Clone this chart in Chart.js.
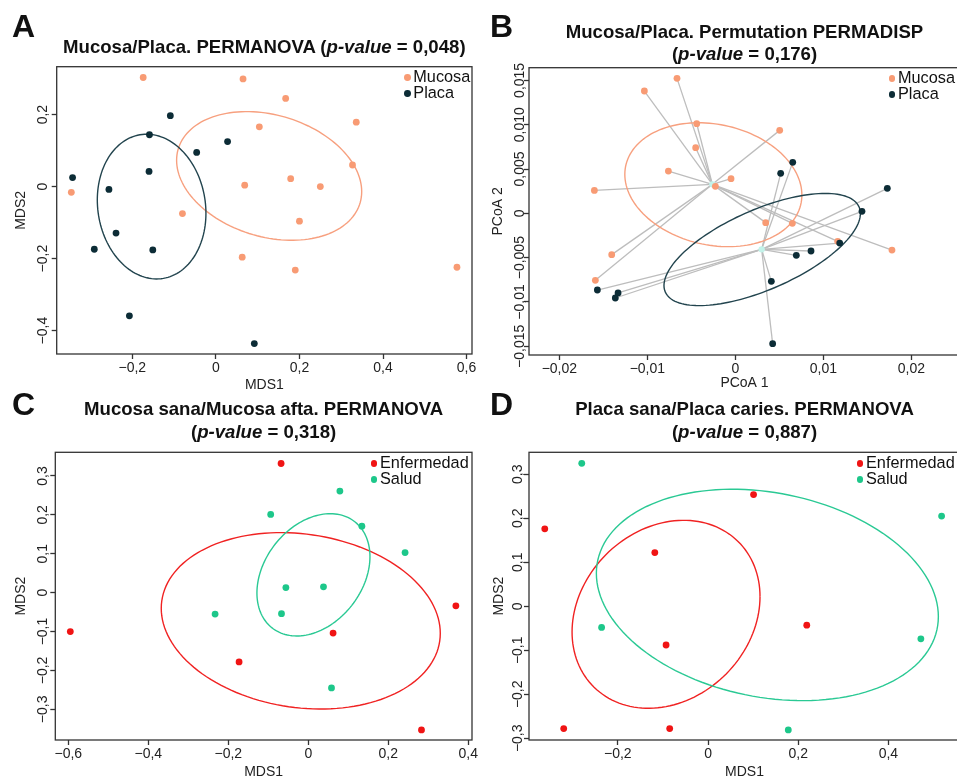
<!DOCTYPE html>
<html>
<head>
<meta charset="utf-8">
<script src="https://cdn.jsdelivr.net/npm/chart.js@4.4.0/dist/chart.umd.min.js"></script>
<style>
  body { margin: 0; width: 957px; height: 778px; overflow: hidden; background: #fff; position: relative;
         font-family: "Liberation Sans", Arial, sans-serif; color: #111; }
  canvas { position: absolute; }
  .letter { position: absolute; font-weight: bold; font-size: 32px; line-height: 32px; }
  .title { position: absolute; font-weight: bold; font-size: 18.6px; line-height: 22.7px; text-align: center; white-space: nowrap; }
  .legend { position: absolute; font-size: 16.3px; line-height: 16px; white-space: nowrap; }
  .legend div { position: relative; }
  .legend span { position: absolute; left: -9.4px; width: 6.8px; height: 6.8px; border-radius: 50%; }
</style>
</head>
<body>
<script>
// ---- A: Mucosa/Placa NMDS
const aMucosa = [[-0.174,0.303],[0.065,0.299],[0.167,0.245],[0.336,0.179],[0.104,0.166],[0.327,0.060],
  [0.069,0.004],[0.179,0.022],[0.250,0.000],[-0.346,-0.016],[-0.080,-0.075],[0.200,-0.096],
  [0.063,-0.196],[0.190,-0.232],[0.577,-0.224]];
const aPlaca = [[-0.109,0.197],[-0.159,0.144],[0.028,0.125],[-0.046,0.095],[-0.343,0.025],[-0.160,0.042],
  [-0.256,-0.008],[-0.239,-0.129],[-0.291,-0.174],[-0.151,-0.176],[-0.207,-0.359],[0.092,-0.436]];
// ellipses: centre x, centre y, half width, half height, y offset at rightmost point
const aEllMucosa = [0.1275, 0.0296, 0.2215, 0.1787, -0.0435];
const aEllPlaca = [-0.1538, -0.0556, 0.130, 0.201, -0.0185];
const aXRange = [-0.381, 0.613], aYRange = [-0.465, 0.333];
const aXTicks = [-0.2, 0, 0.2, 0.4, 0.6], aXLabels = ['−0,2', '0', '0,2', '0,4', '0,6'];
const aYTicks = [-0.4, -0.2, 0, 0.2], aYLabels = ['−0,4', '−0,2', '0', '0,2'];

// ---- B: PERMADISP PCoA
const bMucosa = [[-0.00663,0.01523],[-0.01034,0.01380],[-0.00439,0.01011],[-0.00451,0.00741],[0.00504,0.00936],
  [-0.00761,0.00477],[-0.00049,0.00391],[-0.00227,0.00305],[-0.01602,0.00259],[0.00345,-0.00105],
  [0.00648,-0.00113],[0.01163,-0.00316],[0.01780,-0.00414],[-0.01405,-0.00466],[-0.01591,-0.00756]];
const bPlaca = [[0.00652,0.00575],[0.00515,0.00451],[0.01727,0.00282],[0.01439,0.00023],[0.01186,-0.00335],
  [0.00860,-0.00425],[0.00693,-0.00474],[0.00409,-0.00767],[0.00424,-0.01470],[-0.01568,-0.00865],
  [-0.01333,-0.00898],[-0.01364,-0.00955]];
const bCentroids = [[-0.00261, 0.00327], [0.00299, -0.00406]];
const bEllMucosa = [-0.0025, 0.00323, 0.01006, 0.00699, -0.001165];
const bEllPlaca = [0.00305, -0.00408, 0.01116, 0.00633, 0.00406];
const bXRange = [-0.02345, 0.02553], bYRange = [-0.01598, 0.01643];
const bXTicks = [-0.02, -0.01, 0, 0.01, 0.02], bXLabels = ['−0,02', '−0,01', '0', '0,01', '0,02'];
const bYTicks = [-0.015, -0.01, -0.005, 0, 0.005, 0.01, 0.015];
const bYLabels = ['−0,015', '−0,01', '−0,005', '0', '0,005', '0,010', '0,015'];

// ---- C: Mucosa sana / afta
const cEnf = [[-0.068,0.332],[-0.595,-0.100],[0.062,-0.104],[-0.173,-0.178],[0.369,-0.034],[0.283,-0.353]];
const cSalud = [[0.079,0.261],[-0.094,0.201],[0.134,0.171],[0.242,0.103],[-0.056,0.013],[0.038,0.015],
  [-0.233,-0.055],[-0.067,-0.054],[0.058,-0.245]];
const cEllEnf = [-0.0188, -0.0724, 0.3488, 0.2267, -0.0321];
const cEllSalud = [0.0129, 0.0458, 0.1413, 0.1572, 0.0467];
const cXRange = [-0.6325, 0.4093], cYRange = [-0.3788, 0.3608];
const cXTicks = [-0.6, -0.4, -0.2, 0, 0.2, 0.4], cXLabels = ['−0,6', '−0,4', '−0,2', '0', '0,2', '0,4'];
const cYTicks = [-0.3, -0.2, -0.1, 0, 0.1, 0.2, 0.3], cYLabels = ['−0,3', '−0,2', '−0,1', '0', '0,1', '0,2', '0,3'];

// ---- D: Placa sana / caries
const dEnf = [[-0.362,0.176],[-0.118,0.122],[0.101,0.254],[0.219,-0.043],[-0.093,-0.088],[-0.320,-0.278],[-0.085,-0.278]];
const dSalud = [[-0.280,0.325],[0.518,0.205],[-0.236,-0.048],[0.472,-0.074],[0.178,-0.281]];
const dEllEnf = [-0.0931, -0.0182, 0.2084, 0.2136, 0.0402];
const dEllSalud = [0.1316, 0.0258, 0.3792, 0.2402, -0.0492];
const dXRange = [-0.397, 0.5588], dYRange = [-0.3039, 0.35];
const dXTicks = [-0.2, 0, 0.2, 0.4], dXLabels = ['−0,2', '0', '0,2', '0,4'];
const dYTicks = [-0.3, -0.2, -0.1, 0, 0.1, 0.2, 0.3], dYLabels = ['−0,3', '−0,2', '−0,1', '0', '0,1', '0,2', '0,3'];

const ORANGE = '#f89b74', DARK = '#0c2c36', RED = '#f01414', GREEN = '#1dc78a';
const FONT = '"Liberation Sans", Arial, sans-serif';

// ellipses, spider lines, plot box and rotated y labels
const shapes = {
  id: 'shapes',
  beforeDatasetsDraw(chart, args, opts) {
    const { ctx, chartArea: a, scales: { x, y } } = chart;
    ctx.save();
    ctx.beginPath();
    ctx.rect(a.left, a.top, a.right - a.left, a.bottom - a.top);
    ctx.clip();
    (opts.spiders || []).forEach(s => {
      ctx.strokeStyle = '#bdbdbd';
      ctx.lineWidth = 1.3;
      s.points.forEach(p => {
        ctx.beginPath();
        ctx.moveTo(x.getPixelForValue(p[0]), y.getPixelForValue(p[1]));
        ctx.lineTo(x.getPixelForValue(s.center[0]), y.getPixelForValue(s.center[1]));
        ctx.stroke();
      });
    });
    (opts.ellipses || []).forEach(e => {
      const [cx, cy, w, h, k] = e.shape;
      const v = Math.sqrt(h * h - k * k);
      ctx.strokeStyle = e.color;
      ctx.lineWidth = 1.4;
      ctx.beginPath();
      for (let i = 0; i <= 144; i++) {
        const t = i / 144 * 2 * Math.PI;
        const px = x.getPixelForValue(cx + w * Math.cos(t));
        const py = y.getPixelForValue(cy + k * Math.cos(t) + v * Math.sin(t));
        if (i) ctx.lineTo(px, py); else ctx.moveTo(px, py);
      }
      ctx.stroke();
    });
    ctx.restore();
  },
  afterDraw(chart, args, opts) {
    const { ctx, chartArea: a, scales: { y } } = chart;
    ctx.save();
    ctx.strokeStyle = '#333';
    ctx.lineWidth = 1.3;
    ctx.strokeRect(a.left, a.top, a.right - a.left, a.bottom - a.top);
    ctx.font = '14px ' + FONT;
    ctx.fillStyle = '#222';
    ctx.textAlign = 'center';
    ctx.textBaseline = 'alphabetic';
    opts.yTicks.forEach((val, i) => {
      ctx.save();
      ctx.translate(a.left - opts.gap, y.getPixelForValue(val));
      ctx.rotate(-Math.PI / 2);
      ctx.fillText(opts.yLabels[i], 0, 0);
      ctx.restore();
    });
    ctx.restore();
  }
};

const panels = [
  { letter: 'A', letterPos: [12, 10], canvas: [0, 0, 490, 400], area: [56.7, 66.7, 472, 354], xTitleY: 385, yTitleX: 21.3, gap: 10,
    title: 'Mucosa/Placa. PERMANOVA (<i>p-value</i> = 0,048)', titleTop: 36.2,
    xTitle: 'MDS1', yTitle: 'MDS2', legend: [413.3, 81.7],
    groups: [['Mucosa', aMucosa, ORANGE], ['Placa', aPlaca, DARK]],
    ellipses: [{ shape: aEllMucosa, color: '#f7a07f' }, { shape: aEllPlaca, color: '#22444e' }],
    xRange: aXRange, yRange: aYRange, xTicks: aXTicks, xLabels: aXLabels, yTicks: aYTicks, yLabels: aYLabels },
  { letter: 'B', letterPos: [490, 10], canvas: [478, 0, 490, 400], area: [529, 67.7, 960, 355], xTitleY: 383.5, yTitleX: 498.5, gap: 5.5,
    title: 'Mucosa/Placa. Permutation PERMADISP<br>(<i>p-value</i> = 0,176)', titleTop: 20.5,
    xTitle: 'PCoA 1', yTitle: 'PCoA 2', legend: [898, 82.7],
    groups: [['Mucosa', bMucosa, ORANGE], ['Placa', bPlaca, DARK]],
    centroids: bCentroids,
    spiders: [{ points: bMucosa, center: bCentroids[0] }, { points: bPlaca, center: bCentroids[1] }],
    ellipses: [{ shape: bEllMucosa, color: '#f7a07f' }, { shape: bEllPlaca, color: '#22444e' }],
    xRange: bXRange, yRange: bYRange, xTicks: bXTicks, xLabels: bXLabels, yTicks: bYTicks, yLabels: bYLabels },
  { letter: 'C', letterPos: [12, 388], canvas: [0, 390, 490, 388], area: [55.3, 452.3, 472, 740], xTitleY: 772, yTitleX: 21.3, gap: 8.6,
    title: 'Mucosa sana/Mucosa afta. PERMANOVA<br>(<i>p-value</i> = 0,318)', titleTop: 398.2,
    xTitle: 'MDS1', yTitle: 'MDS2', legend: [380, 467.3],
    groups: [['Enfermedad', cEnf, RED], ['Salud', cSalud, GREEN]],
    ellipses: [{ shape: cEllEnf, color: '#f02222' }, { shape: cEllSalud, color: '#2ac994' }],
    xRange: cXRange, yRange: cYRange, xTicks: cXTicks, xLabels: cXLabels, yTicks: cYTicks, yLabels: cYLabels },
  { letter: 'D', letterPos: [490, 388], canvas: [478, 390, 490, 388], area: [529, 452.3, 960, 740], xTitleY: 772, yTitleX: 498.7, gap: 6.7,
    title: 'Placa sana/Placa caries. PERMANOVA<br>(<i>p-value</i> = 0,887)', titleTop: 398.2,
    xTitle: 'MDS1', yTitle: 'MDS2', legend: [866, 467.7],
    groups: [['Enfermedad', dEnf, RED], ['Salud', dSalud, GREEN]],
    ellipses: [{ shape: dEllEnf, color: '#f02222' }, { shape: dEllSalud, color: '#2ac994' }],
    xRange: dXRange, yRange: dYRange, xTicks: dXTicks, xLabels: dXLabels, yTicks: dYTicks, yLabels: dYLabels }
];

function addDiv(cls, html, left, top, width) {
  const d = document.createElement('div');
  d.className = cls;
  d.innerHTML = html;
  d.style.left = left + 'px';
  d.style.top = top + 'px';
  if (width) d.style.width = width + 'px';
  document.body.appendChild(d);
  return d;
}

panels.forEach(p => {
  const [cl, ct, cw, ch] = p.canvas;
  const [al, at, ar, ab] = p.area;
  const half = 8.4; // half of the axis-title line height
  const pad = {
    left: p.yTitleX - cl - half,
    top: at - ct,
    right: cl + cw - ar,
    bottom: ct + ch - p.xTitleY - half
  };
  const yWidth = al - cl - pad.left;
  const xHeight = p.xTitleY + half - ab;

  const canvas = document.createElement('canvas');
  canvas.width = cw; canvas.height = ch;
  canvas.style.left = cl + 'px'; canvas.style.top = ct + 'px';
  document.body.appendChild(canvas);

  // later groups are plotted on top, as in the original
  const datasets = p.groups.map((g, i) => ({
    label: g[0],
    data: g[1].map(pt => ({ x: pt[0], y: pt[1] })),
    backgroundColor: g[2],
    borderWidth: 0,
    pointRadius: 3.4,
    pointHoverRadius: 3.4,
    order: p.groups.length - i
  }));
  if (p.centroids) {
    datasets.push({ label: 'centroide', data: p.centroids.map(pt => ({ x: pt[0], y: pt[1] })),
      backgroundColor: '#c3f3ea', borderWidth: 0, pointRadius: 3.2, order: 10 });
  }

  new Chart(canvas, {
    type: 'scatter',
    data: { datasets },
    options: {
      animation: false,
      responsive: false,
      events: [],
      layout: { padding: pad },
      plugins: {
        legend: { display: false },
        tooltip: { enabled: false },
        shapes: { ellipses: p.ellipses, spiders: p.spiders, yTicks: p.yTicks, yLabels: p.yLabels, gap: p.gap }
      },
      scales: {
        x: {
          type: 'linear', min: p.xRange[0], max: p.xRange[1],
          afterBuildTicks: s => { s.ticks = p.xTicks.map(v => ({ value: v })); },
          afterFit: s => { s.height = xHeight; },
          ticks: { callback: v => p.xLabels[p.xTicks.indexOf(v)], font: { family: FONT, size: 14 }, color: '#222',
                   padding: 1, maxRotation: 0, autoSkip: false },
          grid: { drawOnChartArea: false, drawTicks: true, tickLength: 5, tickColor: '#333', tickWidth: 1.3 },
          border: { display: false },
          title: { display: true, text: p.xTitle, font: { family: FONT, size: 14 }, color: '#222', padding: 0 }
        },
        y: {
          type: 'linear', min: p.yRange[0], max: p.yRange[1],
          afterBuildTicks: s => { s.ticks = p.yTicks.map(v => ({ value: v })); },
          afterFit: s => { s.width = yWidth; },
          ticks: { display: false },
          grid: { drawOnChartArea: false, drawTicks: true, tickLength: 5, tickColor: '#333', tickWidth: 1.3 },
          border: { display: false },
          title: { display: true, text: p.yTitle, font: { family: FONT, size: 14 }, color: '#222', padding: 0 }
        }
      }
    },
    plugins: [shapes]
  });

  addDiv('letter', p.letter, p.letterPos[0], p.letterPos[1]);
  addDiv('title', p.title, al, p.titleTop, Math.min(ar, 957) - al + (ar > 957 ? ar - 957 : 0));
  const rows = p.groups.map(g => '<div><span style="background:' + g[2] + ';top:6.3px"></span>' + g[0] + '</div>').join('');
  addDiv('legend', rows, p.legend[0], p.legend[1] - 13.8);
});
</script>
</body>
</html>
